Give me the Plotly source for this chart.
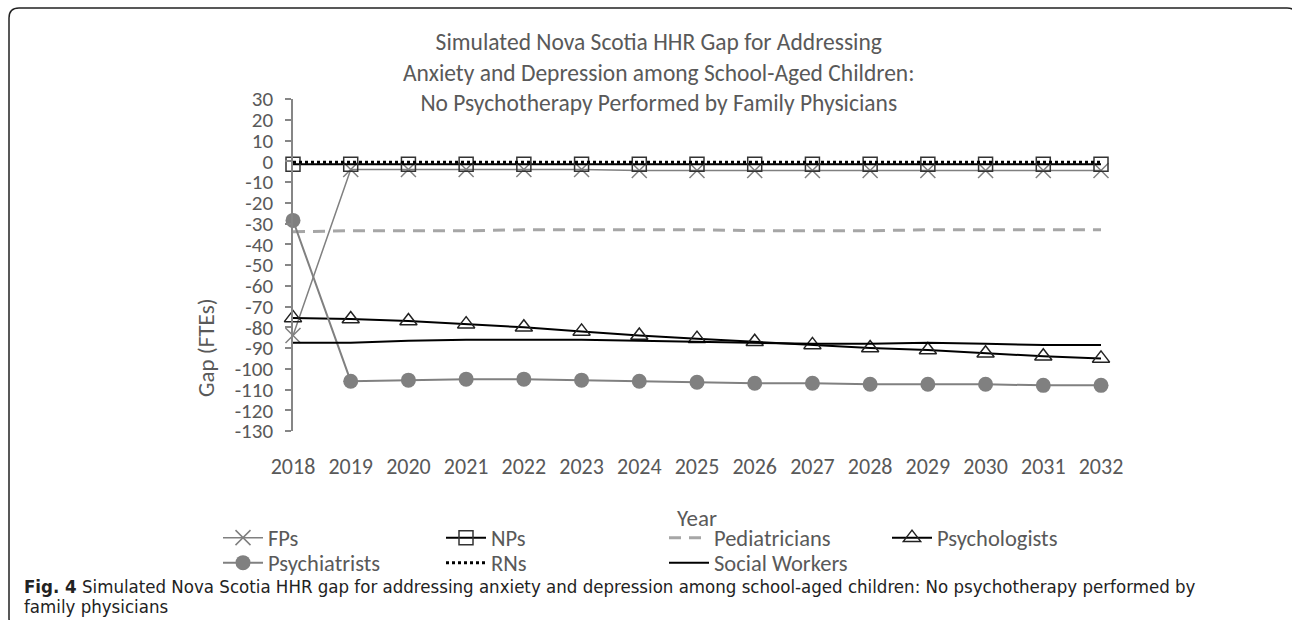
import plotly.graph_objects as go

# ---- data ---------------------------------------------------------------
years = list(range(2018, 2033))

fps = [-84, -4, -4, -4, -4, -4, -4.5, -4.5, -4.5, -4.5, -4.5, -4.5, -4.5, -4.5, -4.5]
nps = [-1.5, -1.5, -1.5, -1.5, -1.5, -1.5, -1.5, -1.5, -1.5, -1.5, -1.5, -1.5, -1.5, -1.5, -1.5]
pediatricians = [-34, -33.5, -33.5, -33.5, -33, -33, -33, -33, -33.5, -33.5, -33.5, -33, -33, -33, -33]
psychologists = [-75.5, -76, -77, -78.5, -80, -82, -84, -85.5, -87, -88.5, -90, -91, -92.5, -94, -95]
psychiatrists = [-28.5, -106, -105.5, -105, -105, -105.5, -106, -106.5, -107, -107, -107.5, -107.5, -107.5, -108, -108]
rns = [-0.5, -0.5, -0.5, -0.5, -0.5, -0.5, -0.5, -0.5, -0.5, -0.5, -0.5, -0.5, -0.5, -0.5, -0.5]
social_workers = [-87.5, -87.5, -86.5, -86, -86, -86, -86.5, -87, -87.5, -88, -88, -87.5, -88, -88.5, -88.5]

y_ticks = list(range(-130, 31, 10))
y_tick_text = [str(v) for v in y_ticks]

title_lines = [
    "Simulated Nova Scotia HHR Gap for Addressing",
    "Anxiety and Depression among School-Aged Children:",
    "No Psychotherapy Performed by Family Physicians",
]
caption_lines = [
    "<b>Fig. 4</b> Simulated Nova Scotia HHR gap for addressing anxiety and depression "
    "among school-aged children: No psychotherapy performed by",
    "family physicians",
]

# ---- layout geometry (pixels) --------------------------------------------
W, H = 1292, 620
L, R, T, B = 293, 1101, 99, 431


def px(x):
    return (x - L) / (R - L)


def py(y):
    return (B - y) / (B - T)


FONT = "Carlito, Calibri, Lato, sans-serif"
CAP_FONT = "Liberation Sans Narrow, DejaVu Sans Condensed, sans-serif"
TXT = "#595959"
GRAY = "#808080"

fig = go.Figure()

# first legend row: FPs, NPs, Pediatricians, Psychologists
fig.add_trace(go.Scatter(
    x=years, y=fps, name="FPs", mode="lines+markers", legend="legend",
    line=dict(color=GRAY, width=1.5),
    marker=dict(symbol="x-thin", size=15, line=dict(color=GRAY, width=1.5)),
    cliponaxis=False))
fig.add_trace(go.Scatter(
    x=years, y=nps, name="NPs", mode="lines+markers", legend="legend",
    line=dict(color="black", width=2),
    marker=dict(symbol="square-open", size=14, color="#333333", line=dict(width=1.5)),
    cliponaxis=False))
fig.add_trace(go.Scatter(
    x=years, y=pediatricians, name="Pediatricians", mode="lines", legend="legend",
    line=dict(color="#a6a6a6", width=3, dash="12px,8px"),
    cliponaxis=False))
fig.add_trace(go.Scatter(
    x=years, y=psychologists, name="Psychologists", mode="lines+markers", legend="legend",
    line=dict(color="black", width=2),
    marker=dict(symbol="triangle-up-open", size=15, color="#222222", line=dict(width=1.5)),
    cliponaxis=False))
# second legend row: Psychiatrists, RNs, Social Workers
fig.add_trace(go.Scatter(
    x=years, y=psychiatrists, name="Psychiatrists", mode="lines+markers", legend="legend2",
    line=dict(color=GRAY, width=2),
    marker=dict(symbol="circle", size=15, color=GRAY),
    cliponaxis=False))
fig.add_trace(go.Scatter(
    x=years, y=rns, name="RNs", mode="lines", legend="legend2",
    line=dict(color="black", width=3, dash="3px,3px"),
    cliponaxis=False))
fig.add_trace(go.Scatter(
    x=years, y=social_workers, name="Social Workers", mode="lines", legend="legend2",
    line=dict(color="black", width=2),
    cliponaxis=False))

# rounded frame around figure and caption
x0, y0, x1, y1 = 9, 8, 1297, 628
rx, ry = 10 / (R - L), 10 / (B - T)
X0, X1, Y0, Y1 = px(x0), px(x1), py(y0), py(y1)
frame = (f"M{X0 + rx},{Y0} L{X1 - rx},{Y0} Q{X1},{Y0} {X1},{Y0 - ry} "
         f"L{X1},{Y1 + ry} Q{X1},{Y1} {X1 - rx},{Y1} L{X0 + rx},{Y1} "
         f"Q{X0},{Y1} {X0},{Y1 + ry} L{X0},{Y0 - ry} Q{X0},{Y0} {X0 + rx},{Y0} Z")

legend_style = dict(
    orientation="h", xanchor="left", yanchor="middle",
    font=dict(family=FONT, color=TXT, size=22.5),
    entrywidth=168, entrywidthmode="pixels", itemwidth=40,
    bgcolor="rgba(0,0,0,0)", traceorder="normal",
)

fig.update_layout(
    width=W, height=H,
    margin=dict(l=L, r=W - R, t=T, b=H - B, pad=0),
    paper_bgcolor="white", plot_bgcolor="white",
    font=dict(family=FONT, color=TXT, size=21),
    showlegend=True,
    legend=dict(x=px(218), y=py(538), **legend_style),
    legend2=dict(x=px(218), y=py(563), **legend_style),
    xaxis=dict(
        range=[2018, 2032], tickvals=years, ticktext=[str(y) for y in years],
        showgrid=False, zeroline=False, showline=False, ticks="",
        ticklabelstandoff=20, tickfont=dict(family=FONT, color=TXT, size=22),
    ),
    yaxis=dict(
        range=[-130, 30], tickvals=y_ticks, ticktext=y_tick_text,
        showgrid=False, zeroline=False, showline=True, linecolor="#868686", linewidth=1.5,
        ticks="outside", ticklen=6, tickcolor="#868686", tickwidth=1.5,
        ticklabelstandoff=8, tickfont=dict(family=FONT, color=TXT, size=21),
    ),
    shapes=[dict(type="path", xref="paper", yref="paper", path=frame,
                 line=dict(color="#222222", width=1.5), layer="above")],
    annotations=[
        dict(text="<br>".join(title_lines), xref="paper", yref="paper",
             x=px(658), y=py(72), xanchor="center", yanchor="middle",
             showarrow=False, font=dict(family=FONT, color=TXT, size=23.5)),
        dict(text="Gap (FTEs)", xref="paper", yref="paper", textangle=-90,
             x=px(206), y=py(348), xanchor="center", yanchor="middle",
             showarrow=False, font=dict(family=FONT, color=TXT, size=23)),
        dict(text="Year", xref="paper", yref="paper",
             x=0.5, y=py(518), xanchor="center", yanchor="middle",
             showarrow=False, font=dict(family=FONT, color=TXT, size=23)),
        dict(text=caption_lines[0], xref="paper", yref="paper", align="left",
             x=px(22), y=py(586), xanchor="left", yanchor="middle",
             showarrow=False, font=dict(family=CAP_FONT, color="#222222", size=18.5)),
        dict(text=caption_lines[1], xref="paper", yref="paper", align="left",
             x=px(22), y=py(606), xanchor="left", yanchor="middle",
             showarrow=False, font=dict(family=CAP_FONT, color="#222222", size=18.5)),
    ],
)

fig.write_html("out.html")
